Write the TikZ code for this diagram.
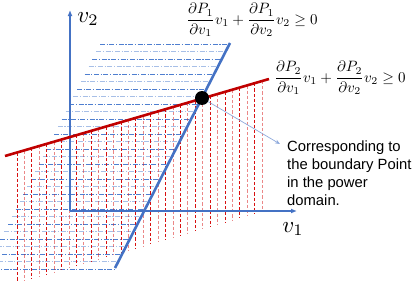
\documentclass[tikz,border=0pt]{standalone}
\usepackage{amsmath,amssymb}
\usepackage{fontspec}
\usepackage{tikz}
\usetikzlibrary{arrows.meta,positioning}
\newfontfamily\notefont{Liberation Sans}
\definecolor{axisblue}{HTML}{4472C4}
\definecolor{hatchblue}{HTML}{4F7FD0}
\definecolor{darkred}{HTML}{C00000}
\definecolor{hatchred}{HTML}{D81010}
\definecolor{pointer}{HTML}{8FAADC}

\begin{document}
\begin{tikzpicture}[
 x=1pt,y=-1pt,
 axis/.style={draw=axisblue,line width=1.6pt,-{Latex[length=6pt,width=5pt]}},
 redhatch/.style={draw=hatchred,line width=0.9pt,dash pattern=on 3.2pt off 2pt},
 bluehatch/.style={draw=hatchblue,line width=0.8pt,dash pattern=on 5pt off 1.6pt on 1.2pt off 1.6pt},
 bound/.style={line width=2.6pt},
 cond/.style={scale=1.5,inner sep=0pt},
 axlab/.style={scale=2.3,inner sep=0pt},
 arr/.style={-{Stealth[length=5pt,width=4pt]},draw=pointer,line width=0.7pt}
]
\useasboundingbox (0,0) rectangle (415,281);
\begin{scope}
\clip (0,0) rectangle (415,281);
\foreach \j in {0,...,30}{
 \pgfmathsetmacro\yy{44+7.5*\j}
 \pgfmathsetmacro\xl{100-0.511*(\yy-44)}
 \pgfmathsetmacro\xr{115+0.5111*(268-\yy)}
 \ifodd\j \draw[bluehatch,draw opacity=0.5] (\xl,\yy)--(\xr,\yy);
 \else \draw[bluehatch] (\xl,\yy)--(\xr,\yy); \fi}
\foreach \i in {0,...,33}{
 \pgfmathsetmacro\xx{17+7.43*\i}
 \pgfmathsetmacro\yt{156-0.2917*(\xx-5)}
 \ifodd\i \draw[redhatch,draw opacity=0.5] (\xx,\yt)--(\xx,{\yt+131});
 \else \draw[redhatch] (\xx,\yt)--(\xx,{\yt+131}); \fi}
\end{scope}
\coordinate (origin) at (70,211);
\coordinate (v2end) at (70,10);
\coordinate (v1end) at (297,211);
\draw[axis] (origin)--(v2end);
\draw[axis] (origin)--(v1end);
\node[axlab] (v2lab) at (88,19) {$v_2$};
\node[axlab] (v1lab) at (293,229) {$v_1$};
\coordinate (bluelow) at (115,268);
\coordinate (bluehigh) at (230,43);
\coordinate (redlow) at (5,156);
\coordinate (redhigh) at (269,79);
\draw[bound,draw=axisblue] (bluelow)--(bluehigh);
\draw[bound,draw=darkred] (redlow)--(redhigh);
\node[circle,fill=black,minimum size=14pt,inner sep=0pt] (bpoint) at (202,98) {};
\node[cond] (cond1) at (252,20) {$\dfrac{\partial P_1}{\partial v_1}v_1+\dfrac{\partial P_1}{\partial v_2}v_2\geq 0$};
\node[cond] (cond2) at (340,78) {$\dfrac{\partial P_2}{\partial v_1}v_1+\dfrac{\partial P_2}{\partial v_2}v_2\geq 0$};
\node[anchor=north west,align=left,inner sep=0pt,font=\notefont\fontsize{14.8}{18}\selectfont] (note) at (287,141) {Corresponding to\\the boundary Point\\in the power\\domain.};
\coordinate (tip) at (280,144);
\draw[arr] (bpoint)--(tip);
\end{tikzpicture}
\end{document}
